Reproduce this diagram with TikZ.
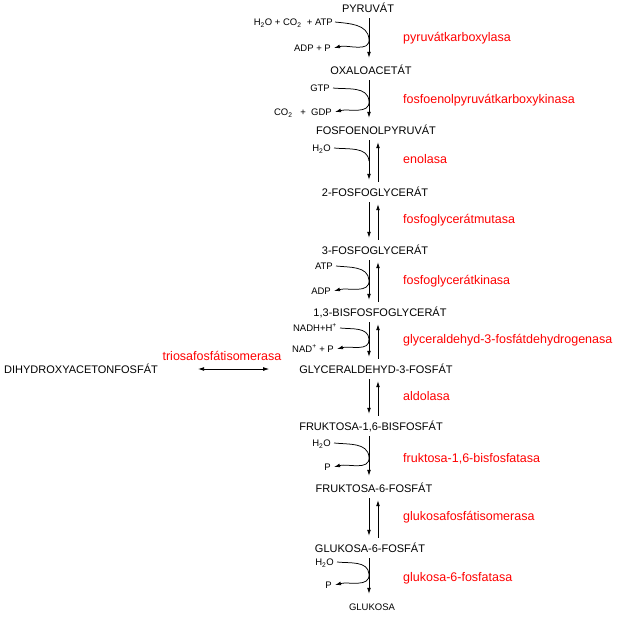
\documentclass[tikz,border=0pt]{standalone}
\usepackage{fontspec}
\setmainfont{Liberation Sans}
\usetikzlibrary{arrows.meta, positioning, calc}
\definecolor{EnzRed}{HTML}{FF0000}

\begin{document}
\begin{tikzpicture}[
            x=1pt, y=-1pt,
            >={Latex[length=6pt,width=3.8pt]},
            met/.style={font=\fontsize{11}{13}\selectfont, inner sep=6pt, text height=8pt, text depth=0pt},
            cof/.style={font=\fontsize{9.5}{11}\selectfont, inner sep=0pt, anchor=east, text height=7pt, text depth=0pt},
            enz/.style={font=\fontsize{12.5}{15}\selectfont, text=EnzRed, inner sep=0pt, anchor=west, text height=9pt, text depth=2.5pt},
            line/.style={draw, line width=0.75pt, ->, shorten >=2pt},
            curve/.style={draw, line width=0.75pt, ->},
            dline/.style={draw, line width=0.75pt, <->}
        ]
        \useasboundingbox (0,0) rectangle (625,619);

        % --- Axes for the arrows ---
        \coordinate (dn) at (369,0);
        \coordinate (up) at (378,0);

        % --- Metabolites ---
        \node[met] (pyr) at (368,8) {PYRUVÁT};
        \node[met] (oxa) at (371,70) {OXALOACETÁT};
        \node[met] (pep) at (376,130) {FOSFOENOLPYRUVÁT};
        \node[met] (pg2) at (375,192) {2-FOSFOGLYCERÁT};
        \node[met] (pg3) at (375,250) {3-FOSFOGLYCERÁT};
        \node[met] (bpg) at (380,312) {1,3-BISFOSFOGLYCERÁT};
        \node[met] (gap) at (376,369) {GLYCERALDEHYD-3-FOSFÁT};
        \node[met] (fbp) at (371,426) {FRUKTOSA-1,6-BISFOSFÁT};
        \node[met] (f6p) at (374,488) {FRUKTOSA-6-FOSFÁT};
        \node[met] (g6p) at (370,548) {GLUKOSA-6-FOSFÁT};
        \node[met, font=\fontsize{9.5}{11}\selectfont] (glc) at (372,606) {GLUKOSA};
        \node[met, anchor=west] (dhap) at (-2,369) {DIHYDROXYACETONFOSFÁT};

        % --- Enzymes ---
        \node[enz] (pc) at (403,38) {pyruvátkarboxylasa};
        \node[enz] (pepck) at (403,100) {fosfoenolpyruvátkarboxykinasa};
        \node[enz] (eno) at (403,160) {enolasa};
        \node[enz] (pgm) at (403,220) {fosfoglycerátmutasa};
        \node[enz] (pgk) at (403,281) {fosfoglycerátkinasa};
        \node[enz] (gapdh) at (403,340) {glyceraldehyd-3-fosfátdehydrogenasa};
        \node[enz] (ald) at (403,397) {aldolasa};
        \node[enz] (fbpase) at (403,459) {fruktosa-1,6-bisfosfatasa};
        \node[enz] (gpi) at (403,517) {glukosafosfátisomerasa};
        \node[enz] (g6pase) at (403,578) {glukosa-6-fosfatasa};
        \node[enz, anchor=center] (tpi) at (222,357) {triosafosfátisomerasa};

        % --- Cofactors ---
        \node[cof] (c1a) at (333,22) {H\textsubscript{2}O + CO\textsubscript{2} \ + ATP};
        \node[cof] (c1b) at (331,48) {ADP + P};
        \node[cof] (c2a) at (330,88) {GTP};
        \node[cof] (c2b) at (332,112) {CO\textsubscript{2} \ \ + \ GDP};
        \node[cof] (c3a) at (331,148) {H\textsubscript{2}O};
        \node[cof] (c5a) at (333,266) {ATP};
        \node[cof] (c5b) at (331,291) {ADP};
        \node[cof] (c6a) at (337,328) {NADH+H\textsuperscript{+}};
        \node[cof] (c6b) at (334,349) {NAD\textsuperscript{+} + P};
        \node[cof] (c8a) at (331,443) {H\textsubscript{2}O};
        \node[cof] (c8b) at (331,467) {P};
        \node[cof] (c10a) at (334,562) {H\textsubscript{2}O};
        \node[cof] (c10b) at (332,585) {P};

        \coordinate (v1) at (369,39);
        \coordinate (v2) at (369,101);
        \coordinate (v3) at (369,161);
        \coordinate (v5) at (369,280);
        \coordinate (v6) at (369,339);
        \coordinate (v8) at (369,457);
        \coordinate (v10) at (369,574);

        % --- Main flow ---
        \path[line] (pyr.south -| dn) -- (oxa.north -| dn);
        \path[line] (oxa.south -| dn) -- (pep.north -| dn);
        \path[line] (pep.south -| dn) -- (pg2.north -| dn);
        \path[line] (pg2.north -| up) -- (pep.south -| up);
        \path[line] (pg2.south -| dn) -- (pg3.north -| dn);
        \path[line] (pg3.north -| up) -- (pg2.south -| up);
        \path[line] (pg3.south -| dn) -- (bpg.north -| dn);
        \path[line] (bpg.north -| up) -- (pg3.south -| up);
        \path[line] (bpg.south -| dn) -- (gap.north -| dn);
        \path[line] (gap.north -| up) -- (bpg.south -| up);
        \path[line] (gap.south -| dn) -- (fbp.north -| dn);
        \path[line] (fbp.north -| up) -- (gap.south -| up);
        \path[line] (fbp.south -| dn) -- (f6p.north -| dn);
        \path[line] (f6p.south -| dn) -- (g6p.north -| dn);
        \path[line] (g6p.north -| up) -- (f6p.south -| up);
        \path[line] (g6p.south -| dn) -- (glc.north -| dn);

        % --- Side reactions ---
        \path[curve] ([xshift=2pt]c1a.east) to[out=-6,in=95] (v1) to[out=-85,in=15] ([xshift=3pt]c1b.east);
        \path[curve] ([xshift=3pt]c2a.east) to[out=-6,in=95] (v2) to[out=-85,in=15] ([xshift=3pt]c2b.east);
        \path[draw, line width=0.75pt] ([xshift=3pt]c3a.east) to[out=-6,in=95] (v3);
        \path[curve] ([xshift=3pt]c5a.east) to[out=-6,in=95] (v5) to[out=-85,in=15] ([xshift=3pt]c5b.east);
        \path[curve] ([xshift=3pt]c6a.east) to[out=-6,in=95] (v6) to[out=-85,in=15] ([xshift=3pt]c6b.east);
        \path[curve] ([xshift=3pt]c8a.east) to[out=-6,in=95] (v8) to[out=-85,in=15] ([xshift=3pt]c8b.east);
        \path[curve] ([xshift=3pt]c10a.east) to[out=-6,in=95] (v10) to[out=-85,in=15] ([xshift=3pt]c10b.east);

        % --- Triose phosphate exchange ---
        \path[dline, shorten <=34pt, shorten >=24pt] (dhap.east |- gap) -- (gap.west);

        \end{tikzpicture}
\end{document}
